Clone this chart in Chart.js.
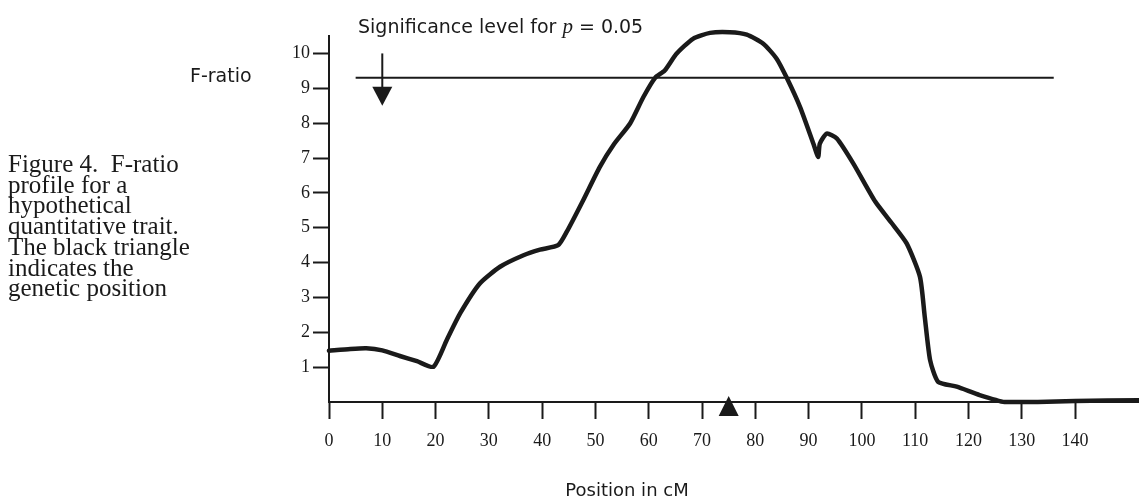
<!DOCTYPE html>
<html>
<head>
<meta charset="utf-8">
<script src="https://cdn.jsdelivr.net/npm/chart.js@4"></script>
<style>
  html, body { margin: 0; padding: 0; background: #fff; }
  #wrap { width: 1139px; height: 504px; position: relative; }
</style>
</head>
<body>
<div id="wrap"><canvas id="Chart1"></canvas></div>
<script>
// 位置 (cM) 與 F-ratio 數值
const posCM = [0, 4, 7, 10, 13.3, 16.5, 19.6, 22.1, 24.6, 28.3, 32.1, 36.5, 39.6, 43.0, 44.6,
               47.7, 50.8, 53.5, 56.5, 59.0, 61.2, 63.0, 65.2, 68.3, 71.5, 75.2, 78.4, 81.5,
               84.0, 85.9, 88.4, 90.9, 91.8, 92.1, 93.4, 95.3, 98.4, 102.5, 105.5, 108.4,
               110.9, 111.8, 112.8, 114.3, 117.8, 122.1, 126.8, 133, 140, 152];
const fRatio = [1.47, 1.52, 1.54, 1.48, 1.32, 1.17, 1.01, 1.78, 2.54, 3.40, 3.88, 4.21, 4.37, 4.50, 4.88,
                5.79, 6.74, 7.40, 7.99, 8.75, 9.30, 9.51, 9.99, 10.42, 10.59, 10.61, 10.54, 10.28,
                9.85, 9.30, 8.46, 7.41, 7.03, 7.41, 7.70, 7.56, 6.84, 5.75, 5.15, 4.55,
                3.59, 2.44, 1.20, 0.58, 0.44, 0.20, 0.0, 0.0, 0.03, 0.05];

// 刻度
const xTickVals = [0, 10, 20, 30, 40, 50, 60, 70, 80, 90, 100, 110, 120, 130, 140];
const yTickVals = [1, 2, 3, 4, 5, 6, 7, 8, 9, 10];

// 顯著水準 p = 0.05 的 F 值，以及水平線的範圍
const sigLevel = 9.3;
const sigFrom = 5;
const sigTo = 136;
const arrowPos = 10;     // 向下箭頭的位置 (cM)
const markerPos = 75;    // 黑色三角形：基因位置 (cM)

const captionLines = [
  'Figure 4.  F-ratio',
  'profile for a',
  'hypothetical',
  'quantitative trait.',
  'The black triangle',
  'indicates the',
  'genetic position'
];

const ink = '#1a1a1a';

// 文字、箭頭、三角形 用 plugin 畫
const extrasPlugin = {
  id: 'extras',
  afterDatasetsDraw(chart) {
    const c = chart.ctx;
    const xs = chart.scales.x, ys = chart.scales.y;
    c.save();
    c.fillStyle = ink;
    c.strokeStyle = ink;

    // 左側說明文字
    c.font = '25px "Liberation Serif", "Times New Roman", serif';
    c.textAlign = 'left';
    c.textBaseline = 'alphabetic';
    captionLines.forEach((t, i) => c.fillText(t, 8, 172 + i * 20.7));

    // Y 軸說明
    c.font = '19px "DejaVu Sans", sans-serif';
    c.textBaseline = 'middle';
    c.fillText('F-ratio', 190, 77);

    // 上方標題 (p 斜體)
    c.textBaseline = 'alphabetic';
    let tx = 358;
    const ty = 33;
    c.font = '19px "DejaVu Sans", sans-serif';
    const s1 = 'Significance level for ';
    c.fillText(s1, tx, ty);
    tx += c.measureText(s1).width;
    c.font = 'italic 21px "Liberation Serif", serif';
    c.fillText('p', tx, ty);
    tx += c.measureText('p').width;
    c.font = '19px "DejaVu Sans", sans-serif';
    c.fillText(' = 0.05', tx, ty);

    // X 軸說明
    c.font = '18px "DejaVu Sans", sans-serif';
    c.textAlign = 'center';
    c.textBaseline = 'middle';
    c.fillText('Position in cM', 627, 491);

    // 向下箭頭
    const ax = xs.getPixelForValue(arrowPos);
    const aTop = ys.getPixelForValue(10);
    const aLine = ys.getPixelForValue(sigLevel);
    c.lineWidth = 2;
    c.beginPath();
    c.moveTo(ax, aTop);
    c.lineTo(ax, aLine + 10);
    c.stroke();
    c.beginPath();
    c.moveTo(ax - 10, aLine + 9);
    c.lineTo(ax + 10, aLine + 9);
    c.lineTo(ax, aLine + 28);
    c.closePath();
    c.fill();

    // 基因位置三角形
    const mx = xs.getPixelForValue(markerPos);
    const my = ys.getPixelForValue(0);
    c.beginPath();
    c.moveTo(mx, my - 6);
    c.lineTo(mx + 10, my + 14);
    c.lineTo(mx - 10, my + 14);
    c.closePath();
    c.fill();

    c.restore();
  }
};

function drawChart() {
  const ctx = document.getElementById('Chart1');

  new Chart(ctx, {
    type: 'line',
    data: {
      datasets: [
        { // F-ratio 曲線
          label: 'F-ratio',
          data: posCM.map((p, i) => ({ x: p, y: fRatio[i] })),
          borderColor: ink,
          borderWidth: 4.5,
          tension: 0.2,
          pointRadius: 0,
          fill: false,
          clip: false,
          borderCapStyle: 'round',
          borderJoinStyle: 'round'
        },
        { // 顯著水準線
          label: 'p = 0.05',
          data: [{ x: sigFrom, y: sigLevel }, { x: sigTo, y: sigLevel }],
          borderColor: ink,
          borderWidth: 2,
          pointRadius: 0,
          fill: false,
          clip: false
        }
      ]
    },
    options: {
      responsive: true,
      maintainAspectRatio: false,
      animation: false,
      layout: { padding: { top: 36, right: 0, left: 0, bottom: 0 } },
      plugins: {
        legend: { display: false },
        tooltip: { enabled: false },
        title: { display: false }
      },
      scales: {
        x: {
          type: 'linear',
          min: 0,
          max: 152,
          afterBuildTicks: (s) => { s.ticks = xTickVals.map(v => ({ value: v })); },
          afterFit: (s) => { s.height = 102; },
          border: { display: true, color: ink, width: 2 },
          grid: { drawOnChartArea: false, drawTicks: true, tickLength: 17, tickColor: ink, tickWidth: 2 },
          ticks: {
            color: ink,
            padding: 11,
            maxRotation: 0,
            autoSkip: false,
            font: { family: '"Liberation Serif", "Times New Roman", serif', size: 18 }
          }
        },
        y: {
          type: 'linear',
          min: 0,
          max: 10.5,
          afterBuildTicks: (s) => { s.ticks = yTickVals.map(v => ({ value: v })); },
          afterFit: (s) => { s.width = 329; },
          border: { display: true, color: ink, width: 2 },
          grid: { drawOnChartArea: false, drawTicks: true, tickLength: 16, tickColor: ink, tickWidth: 2 },
          ticks: {
            color: ink,
            padding: 3,
            autoSkip: false,
            font: { family: '"Liberation Serif", "Times New Roman", serif', size: 18 }
          }
        }
      }
    },
    plugins: [extrasPlugin]
  });
}

drawChart();
</script>
</body>
</html>
